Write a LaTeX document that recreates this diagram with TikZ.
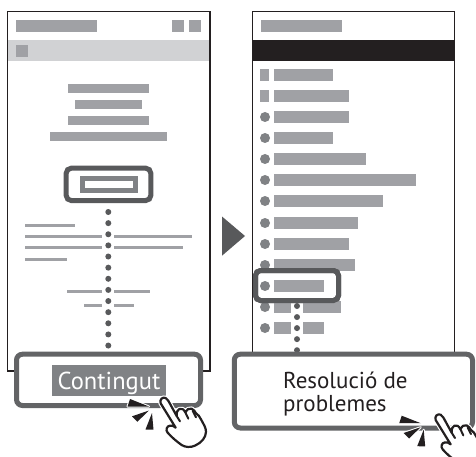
\documentclass[tikz,border=0pt]{standalone}
\usepackage{fontspec}
\setmainfont{PT Sans}
\definecolor{barg}{HTML}{A0A1A5}
\definecolor{bandg}{HTML}{D1D2D4}
\definecolor{midg}{HTML}{808285}
\definecolor{darkg}{HTML}{58595B}
\definecolor{boxg}{HTML}{636466}
\definecolor{ink}{HTML}{231F20}
\tikzset{
  framew/.style={draw=ink,line width=1.1pt,fill=white},
  hilite/.style={draw=darkg,line width=5pt,rounded corners=5pt,fill=white},
  bigbox/.style={draw=boxg,line width=5pt,rounded corners=6pt,fill=white},
  thinbar/.style={draw=barg,line width=3pt},
  dotg/.style={fill=darkg,draw=none},
  wedgehalo/.style={draw=white,fill=white,line width=2pt,line join=round},
  wedge/.style={fill=ink,draw=none},
  handout/.style={draw=ink,line width=2.2pt,fill=white,line join=round,line cap=round},
  handline/.style={draw=ink,line width=2pt,line cap=round},
  halo/.style={draw=white,line width=4.5pt,fill=white,line join=round},
}
\newcommand{\gbar}[4]{\fill[barg] (#1,#2) rectangle (#3,#4);}
\newcommand{\rowbar}[2]{\fill[barg] (274,#1) rectangle (#2,#1+12);}
\newcommand{\rowdot}[1]{\fill[midg] (265,#1+6) circle (5);}
\newcommand{\burst}{%
  \path[wedgehalo] (149,406.5) -- (130,399) -- (127.5,406.5) -- cycle;
  \path[wedgehalo] (149,410.5) -- (132,416.3) -- (137.3,421.8) -- cycle;
  \path[wedgehalo] (152,413) -- (145.5,429.5) -- (153.5,429.7) -- cycle;
  \path[wedge] (149,406.5) -- (130,399) -- (127.5,406.5) -- cycle;
  \path[wedge] (149,410.5) -- (132,416.3) -- (137.3,421.8) -- cycle;
  \path[wedge] (152,413) -- (145.5,429.5) -- (153.5,429.7) -- cycle;
}
\newcommand{\handshape}{
  (122,70) .. controls (118,58) and (128,50) .. (137,54)
  .. controls (143,57) and (147,66) .. (152,75) -- (170,108)
  .. controls (170,98) and (170,90) .. (178,87)
  .. controls (186,84) and (191,88) .. (196,97)
  .. controls (199,88) and (208,84) .. (215,86)
  .. controls (221,88) and (225,95) .. (228,100)
  .. controls (234,103) and (239,110) .. (243,118)
  .. controls (250,132) and (258,142) .. (258,155)
  .. controls (258,172) and (245,188) .. (225,197)
  .. controls (212,203) and (195,202) .. (185,195)
  .. controls (172,186) and (155,172) .. (143,158)
  .. controls (136,150) and (140,138) .. (150,137)
  .. controls (156,136) and (162,138) .. (167,143)
  -- cycle}
\newcommand{\handlines}{
  \draw[handline] (170,108) -- (180,124);
  \draw[handline] (196,97) -- (205,116);
  \draw[handline] (218,92) -- (228,112);
}
\begin{document}
\begin{tikzpicture}[x=1pt,y=-1pt]
\useasboundingbox (0,0) rectangle (476,457);
% left window
\path[framew] (7.7,11.7) rectangle (210,371);
\fill[bandg] (8.3,40) rectangle (209.4,61);
\gbar{16}{20}{97}{32}
\gbar{172}{20}{184}{32}
\gbar{189}{20}{201}{32}
\gbar{16}{45}{28}{57}
\gbar{68}{84}{149}{93}
\gbar{75}{100}{142}{109}
\gbar{68}{116}{149}{125}
\gbar{50}{132}{167}{141}
\path[draw=darkg,line width=5pt,rounded corners=5pt] (66.2,168.2) rectangle (150.8,200.5);
\path[draw=midg,line width=5pt] (82.5,178.5) rectangle (135.5,190.5);
\draw[thinbar] (25,225) -- (75,225);
\draw[thinbar] (25,236.5) -- (102,236.5);
\draw[thinbar] (114,236.5) -- (192,236.5);
\draw[thinbar] (25,247.7) -- (102,247.7);
\draw[thinbar] (114,247.7) -- (183,247.7);
\draw[thinbar] (25,259) -- (67,259);
\draw[thinbar] (67,291.7) -- (102,291.7);
\draw[thinbar] (114,291.7) -- (150,291.7);
\draw[thinbar] (84,305.7) -- (102,305.7);
\draw[thinbar] (114,305.7) -- (134,305.7);
\foreach \i in {0,...,12} \fill[dotg] (108.3,212+11.13*\i) circle (3);
% arrow
\fill[darkg] (222,216.5) -- (245,236) -- (222,255.7) -- cycle;
% right window
\path[framew] (252.3,11.7) rectangle (454.7,356);
\fill[ink] (252.3,40) rectangle (454.7,61);
\gbar{261}{20}{342}{32}
\fill[barg] (260,69) rectangle (269,81);
\fill[barg] (260,90) rectangle (269,102);
\foreach \r in {111,132,153,174,195,217,238,259,280,301,322} {\rowdot{\r}}
\rowbar{69}{333}
\rowbar{90}{349}
\rowbar{111}{349}
\rowbar{132}{333}
\rowbar{153}{366}
\rowbar{174}{416}
\rowbar{195}{383}
\rowbar{217}{358}
\rowbar{238}{349}
\rowbar{259}{355}
\path[hilite] (255.5,270.5) rectangle (338.5,300.5);
\rowdot{280}
\rowbar{280}{324}
\fill[barg] (274,301) rectangle (291,313);
\fill[barg] (303,301) rectangle (341,313);
\fill[barg] (274,322) rectangle (291,334);
\fill[barg] (303,322) rectangle (324,334);
\path[draw=darkg,line width=5pt,rounded corners=5pt] (255.5,270.5) rectangle (338.5,300.5);
\foreach \i in {0,...,4} \fill[dotg] (297,306+11.05*\i) circle (3);
% big boxes
\path[bigbox] (16.5,354.2) rectangle (200.5,405.5);
\fill[midg] (52,365) rectangle (166,395.7);
\node[text=white,font=\fontsize{24.5}{28}\selectfont,anchor=base] (contingut) at (109,389) {Contingut};
\path[bigbox] (234.3,354.2) rectangle (472.5,428);
\node[text=ink,font=\fontsize{23}{26}\selectfont,anchor=base west,inner sep=0pt] (res1) at (283,388) {Resolució de};
\node[text=ink,font=\fontsize{23}{26}\selectfont,anchor=base west,inner sep=0pt] (res2) at (283,411) {problemes};
% left hand + burst
\burst
\begin{scope}[shift={(120,380)},x=.3333pt,y=-.3333pt]
\path[halo] \handshape;
\path[handout] \handshape;
\handlines
\end{scope}
% right hand + burst
\begin{scope}[shift={(271.7,16.7)}]
\burst
\end{scope}
\begin{scope}[shift={(395,396.7)},x=.3333pt,y=-.3333pt]
\path[halo] \handshape;
\path[handout] \handshape;
\handlines
\end{scope}
\end{tikzpicture}
\end{document}
